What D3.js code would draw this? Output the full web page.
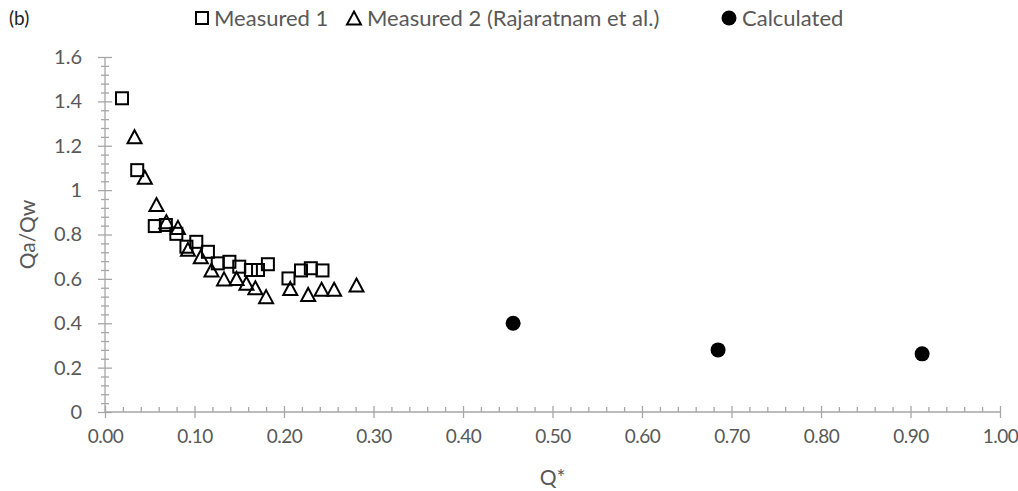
<!DOCTYPE html>
<html>
<head>
<meta charset="utf-8">
<script src="https://cdn.jsdelivr.net/npm/d3@7"></script>
<style>
  body { margin: 0; background: #fff; }
  text { font-family: Lato, "Open Sans", sans-serif; }
</style>
</head>
<body>
<script>
// Data
var measured1X = [0.019, 0.036, 0.0556, 0.068, 0.0797, 0.091, 0.102, 0.115, 0.126, 0.139, 0.150, 0.163, 0.171, 0.182, 0.205, 0.219, 0.230, 0.243];
var measured1Y = [1.414, 1.09, 0.838, 0.843, 0.803, 0.745, 0.767, 0.722, 0.670, 0.677, 0.655, 0.640, 0.640, 0.666, 0.602, 0.638, 0.648, 0.638];

var measured2X = [0.033, 0.0445, 0.0575, 0.0686, 0.0815, 0.0927, 0.107, 0.119, 0.133, 0.147, 0.158, 0.168, 0.180, 0.207, 0.227, 0.242, 0.256, 0.281];
var measured2Y = [1.241, 1.058, 0.935, 0.858, 0.832, 0.733, 0.700, 0.640, 0.600, 0.602, 0.580, 0.560, 0.520, 0.557, 0.530, 0.553, 0.553, 0.572];

var calcX = [0.456, 0.685, 0.913];
var calcY = [0.400, 0.280, 0.262];

var xTicks = [0, 0.1, 0.2, 0.3, 0.4, 0.5, 0.6, 0.7, 0.8, 0.9, 1.0];
var xTickLabels = ["0.00", "0.10", "0.20", "0.30", "0.40", "0.50", "0.60", "0.70", "0.80", "0.90", "1.00"];
var yTicks = [0, 0.2, 0.4, 0.6, 0.8, 1.0, 1.2, 1.4, 1.6];
var yTickLabels = ["0", "0.2", "0.4", "0.6", "0.8", "1", "1.2", "1.4", "1.6"];

var seriesNames = ["Measured 1", "Measured 2 (Rajaratnam et al.)", "Calculated"];

var svgWidth = 1018;
var svgHeight = 491;

var plot = { left: 105, right: 1000, top: 57, bottom: 412 };

var axisColor = "#a6a6a6";
var textColor = "#595959";
var fontSize = 21;

var svg = d3.select("body")
  .append("svg")
  .attr("width", svgWidth)
  .attr("height", svgHeight);

var xScale = d3.scaleLinear().domain([0, 1]).range([plot.left, plot.right]);
var yScale = d3.scaleLinear().domain([0, 1.6]).range([plot.bottom, plot.top]);

// minor tick values
var xMinor = d3.range(0, 1.0001, 0.02).filter(function(v) { return Math.abs(v * 10 - Math.round(v * 10)) > 1e-6; });
var yMinor = d3.range(0, 1.6001, 0.04).filter(function(v) { return Math.abs(v * 5 - Math.round(v * 5)) > 1e-6; });

function styleAxis(g) {
  g.select(".domain").remove();
  g.selectAll("line").attr("stroke", axisColor).attr("stroke-width", 1.3);
  g.selectAll("text").attr("fill", textColor);
}

// y axis: minor ticks crossing
svg.append("g")
  .attr("transform", `translate(${plot.left + 4}, 0)`)
  .call(d3.axisLeft(yScale).tickValues(yMinor).tickSize(8).tickFormat(""))
  .call(styleAxis);
// y axis: major ticks crossing
svg.append("g")
  .attr("transform", `translate(${plot.left + 7}, 0)`)
  .call(d3.axisLeft(yScale).tickValues(yTicks).tickSize(14).tickFormat(""))
  .call(styleAxis);
// y labels
svg.append("g")
  .attr("transform", `translate(${plot.left}, 0)`)
  .call(d3.axisLeft(yScale).tickValues(yTicks).tickSize(0).tickPadding(23)
    .tickFormat(function(d, i) { return yTickLabels[i]; }))
  .call(styleAxis)
  .selectAll("text").style("font-size", "20px");

// x axis: minor ticks (inside)
svg.append("g")
  .attr("transform", `translate(0, ${plot.bottom})`)
  .call(d3.axisTop(xScale).tickValues(xMinor).tickSize(5).tickFormat(""))
  .call(styleAxis);
// x axis: major ticks crossing
svg.append("g")
  .attr("transform", `translate(0, ${plot.bottom - 6})`)
  .call(d3.axisBottom(xScale).tickValues(xTicks).tickSize(12).tickFormat(""))
  .call(styleAxis);
// x labels
svg.append("g")
  .attr("transform", `translate(0, ${plot.bottom})`)
  .call(d3.axisBottom(xScale).tickValues(xTicks).tickSize(0).tickPadding(18)
    .tickFormat(function(d, i) { return xTickLabels[i]; }))
  .call(styleAxis)
  .selectAll("text").style("font-size", "19px").style("letter-spacing", "-0.5px");

// axis lines
svg.append("line")
  .attr("x1", plot.left).attr("x2", plot.left)
  .attr("y1", plot.top).attr("y2", plot.bottom)
  .attr("stroke", axisColor).attr("stroke-width", 1.3);
svg.append("line")
  .attr("x1", plot.left).attr("x2", plot.right)
  .attr("y1", plot.bottom).attr("y2", plot.bottom)
  .attr("stroke", axisColor).attr("stroke-width", 1.3);

// axis titles
svg.append("text")
  .attr("transform", `translate(35, ${(plot.top + plot.bottom) / 2}) rotate(-90)`)
  .attr("text-anchor", "middle")
  .attr("fill", textColor)
  .style("font-size", fontSize + "px")
  .text("Qa/Qw");

svg.append("text")
  .attr("x", (plot.left + plot.right) / 2)
  .attr("y", 485)
  .attr("text-anchor", "middle")
  .attr("fill", textColor)
  .style("font-size", fontSize + "px")
  .text("Q*");

// markers
var sq = 12;
var triPath = "M0,-6.5L7,6.5L-7,6.5Z";

svg.append("g").selectAll("rect")
  .data(measured1X)
  .enter()
  .append("rect")
  .attr("x", d => xScale(d) - sq / 2)
  .attr("y", (d, i) => yScale(measured1Y[i]) - sq / 2)
  .attr("width", sq).attr("height", sq)
  .attr("fill", "none").attr("stroke", "#000").attr("stroke-width", 2);

svg.append("g").selectAll("path")
  .data(measured2X)
  .enter()
  .append("path")
  .attr("d", triPath)
  .attr("transform", (d, i) => `translate(${xScale(d)}, ${yScale(measured2Y[i])})`)
  .attr("fill", "none").attr("stroke", "#000").attr("stroke-width", 2);

svg.append("g").selectAll("circle")
  .data(calcX)
  .enter()
  .append("circle")
  .attr("cx", d => xScale(d))
  .attr("cy", (d, i) => yScale(calcY[i]))
  .attr("r", 7.5)
  .attr("fill", "#000");

// panel label
svg.append("text")
  .attr("x", 9).attr("y", 25)
  .attr("fill", "#222")
  .style("font-size", "19px")
  .text("(b)");

// legend
var legend = svg.append("g");
legend.append("rect")
  .attr("x", 202 - sq / 2).attr("y", 18 - sq / 2)
  .attr("width", sq).attr("height", sq)
  .attr("fill", "none").attr("stroke", "#000").attr("stroke-width", 2);
legend.append("text").attr("x", 214).attr("y", 26)
  .attr("fill", textColor).style("font-size", "22px").text(seriesNames[0]);
legend.append("path")
  .attr("d", triPath)
  .attr("transform", "translate(354, 18)")
  .attr("fill", "none").attr("stroke", "#000").attr("stroke-width", 2);
legend.append("text").attr("x", 367).attr("y", 26)
  .attr("fill", textColor).style("font-size", "22px").text(seriesNames[1]);
legend.append("circle")
  .attr("cx", 729).attr("cy", 18).attr("r", 7.5)
  .attr("fill", "#000");
legend.append("text").attr("x", 742).attr("y", 26)
  .attr("fill", textColor).style("font-size", "22px").text(seriesNames[2]);
</script>
</body>
</html>
